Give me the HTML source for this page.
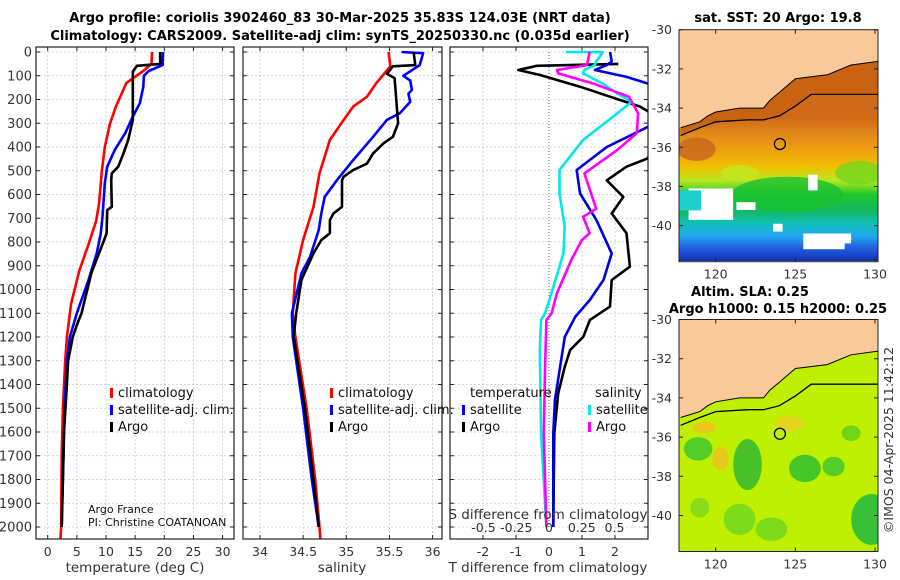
<!DOCTYPE html>
<html><head><meta charset="utf-8"><style>
html,body{margin:0;padding:0;background:#fff;}
svg{display:block;font-family:"DejaVu Sans","Liberation Sans",sans-serif;}
</style></head><body>
<svg id="s" width="900" height="580" viewBox="0 0 900 580" xmlns="http://www.w3.org/2000/svg">
<defs>
<clipPath id="c1"><rect x="36" y="47" width="198" height="492"/></clipPath>
<clipPath id="c2"><rect x="243" y="47" width="199" height="492"/></clipPath>
<clipPath id="c3"><rect x="450" y="47" width="198" height="492"/></clipPath>
<clipPath id="m1"><rect x="679" y="29" width="199" height="232"/></clipPath>
<clipPath id="m2"><rect x="679" y="319" width="199" height="232"/></clipPath>
<linearGradient id="sstg" x1="0" y1="0" x2="0" y2="1">
<stop offset="0.38" stop-color="#d06a18"/><stop offset="0.45" stop-color="#e08818"/><stop offset="0.52" stop-color="#eea010"/>
<stop offset="0.59" stop-color="#f0c000"/><stop offset="0.65" stop-color="#b8e820"/><stop offset="0.71" stop-color="#20c828"/>
<stop offset="0.78" stop-color="#10b860"/><stop offset="0.83" stop-color="#10c0b0"/><stop offset="0.89" stop-color="#20a8f0"/>
<stop offset="0.94" stop-color="#2060e0"/><stop offset="1" stop-color="#1030b0"/>
</linearGradient>
</defs>
<text x="340" y="22" text-anchor="middle" font-size="13" font-weight="bold" fill="#000">Argo profile: coriolis 3902460_83 30-Mar-2025 35.83S 124.03E (NRT data)</text>
<text x="340" y="40" text-anchor="middle" font-size="13" font-weight="bold" fill="#000">Climatology: CARS2009. Satellite-adj clim: synTS_20250330.nc (0.035d earlier)</text>
<g id="g"></g>
</svg>
<script>
// ---------- data ----------
const tClimD=[0,50,80,130,230,300,400,500,640,712,810,922,1062,1100,1200,1300,1500,1700,2000,2053];
const tClimV=[17.9,17.8,16.4,13.5,11.7,10.7,9.8,9.3,8.8,8.3,7.0,5.4,4.0,3.8,3.3,3.0,2.6,2.4,2.3,2.2];
const tSatD=[0,55,80,100,146,216,272,342,413,483,553,693,763,848,960,1100,1200,1300,1500,1800,2000];
const tSatV=[19.8,19.7,17.3,16.5,16.4,15.8,14.6,13.3,11.5,10.2,9.8,9.4,9.1,8.4,7.0,5.0,3.8,3.3,2.9,2.6,2.4];
const tArgoD=[0,50,58,83,286,370,427,483,511,540,652,666,763,790,930,1100,1150,1200,1300,1400,1600,2000];
const tArgoV=[19.3,19.3,15.3,14.6,14.6,13.8,13.0,12.1,11.0,10.9,11.0,10.2,10.1,9.7,7.5,5.8,5.0,4.3,3.5,3.3,2.8,2.4];
const sClimD=[0,60,130,188,230,286,370,511,652,792,932,1100,1200,1500,1800,2000,2053];
const sClimV=[35.49,35.51,35.35,35.24,35.08,34.97,34.81,34.69,34.62,34.50,34.41,34.38,34.41,34.54,34.64,34.69,34.70];
const sSatD=[0,5,55,100,120,160,175,210,258,286,357,455,540,610,680,750,862,932,1100,1200,1500,1800,2000];
const sSatV=[35.64,35.89,35.85,35.66,35.74,35.76,35.72,35.74,35.62,35.47,35.31,35.08,34.89,34.75,34.71,34.68,34.58,34.48,34.37,34.38,34.50,34.60,34.68];
const sArgoD=[0,55,60,92,110,300,357,385,427,470,497,525,540,652,680,708,763,792,848,960,1100,1200,1500,1800,2000];
const sArgoV=[35.78,35.80,35.54,35.47,35.56,35.60,35.54,35.43,35.31,35.24,35.08,34.97,34.95,34.95,34.85,34.81,34.81,34.71,34.62,34.48,34.42,34.39,34.52,34.62,34.68];
const dTArgoD=[50,58,76,97,146,202,230,258,300,447,483,540,610,680,763,904,960,1072,1128,1199,1255,1325,1437,1606,2000];
const dTArgoV=[2.1,-0.37,-0.93,-0.27,0.94,2.15,2.76,3.1,3.4,3.0,2.35,1.75,2.25,1.9,2.35,2.45,1.9,1.85,1.24,1.04,0.64,0.48,0.28,0.16,0.13];
const dTSatD=[0,40,55,76,105,133,200,315,400,497,595,708,848,960,1044,1114,1199,1466,1606,2000];
const dTSatV=[1.85,1.9,1.75,1.39,2.35,3.0,3.6,3.0,1.75,0.84,0.94,1.44,1.9,1.65,1.24,0.8,0.48,0.18,0.13,0.13];
const dSSatD=[0,1,40,55,76,90,133,174,210,272,370,497,595,735,848,960,1100,1128,1255,1606,2000];
const dSSatV=[0.13,0.41,0.36,0.35,0.27,0.26,0.41,0.52,0.63,0.49,0.26,0.08,0.08,0.12,0.11,0.05,-0.03,-0.06,-0.07,-0.06,-0.02];
const dSArgoD=[0,55,76,90,133,188,258,342,413,511,660,694,763,792,876,1016,1100,1128,1325,1606,2000];
const dSArgoV=[0.31,0.29,0.06,0.07,0.34,0.61,0.68,0.67,0.52,0.27,0.36,0.26,0.31,0.25,0.17,0.06,0.02,-0.02,-0.03,-0.04,-0.02];
const depthTicks=[0,100,200,300,400,500,600,700,800,900,1000,1100,1200,1300,1400,1500,1600,1700,1800,1900,2000];
const tempTicks=[0,5,10,15,20,25,30];
const salTicks=[34,34.5,35,35.5,36];
const salTickLabels=["34","34.5","35","35.5","36"];
const dTTicks=[-2,-1,0,1,2];
const dSTicks=[-0.5,-0.25,0,0.25,0.5];
const dSTickLabels=["-0.5","-0.25","0","0.25","0.5"];
const latTicks=[-30,-32,-34,-36,-38,-40];
const lonTicks=[120,125,130];
const coastLon=[117.8,119,119.5,120,121.5,123,123.4,124,125,127,128.5,130.3];
const coastLat=[-35.0,-34.7,-34.4,-34.2,-34.0,-34.0,-33.6,-33.2,-32.5,-32.3,-31.8,-31.6];
const shelfLon=[117.8,119,120,122,123,124,125,126,128,130.3];
const shelfLat=[-35.4,-35.0,-34.7,-34.6,-34.6,-34.4,-33.9,-33.3,-33.3,-33.3];
const floatLon=124.03, floatLat=-35.83;

// ---------- helpers ----------
const NS="http://www.w3.org/2000/svg";
const G=document.getElementById('g');
function el(tag,attrs,parent,txt){const e=document.createElementNS(NS,tag);for(const k in attrs)e.setAttribute(k,attrs[k]);if(txt!==undefined)e.textContent=txt;(parent||G).appendChild(e);return e;}
const yD=d=>52+d*0.2375;
const xT=v=>47.7+v*5.83;
const xS=v=>260+(v-34)*86.3;
const xDT=v=>549+v*33;
const xDS=v=>549+v*131;
const PT=[[36,234],[243,442],[450,648]];
const TOP=47,BOT=539;

function gridPanel(p,xs,xf){
  const [l,r]=PT[p];
  depthTicks.forEach(d=>{const y=yD(d);
    const g=el('line',{x1:l,x2:r,y1:y,y2:y,stroke:'#c8c8e0','stroke-width':0.8,'stroke-dasharray':'2,2'});
    
    el('line',{x1:l,x2:l+4,y1:y,y2:y,stroke:'#222'});el('line',{x1:r-4,x2:r,y1:y,y2:y,stroke:'#222'});});
  xs.forEach(v=>{const x=xf(v);
    const g=el('line',{x1:x,x2:x,y1:TOP,y2:BOT,stroke:'#c8c8e0','stroke-width':0.8,'stroke-dasharray':'2,2'});
    
    el('line',{x1:x,x2:x,y1:BOT-4,y2:BOT,stroke:'#222'});el('line',{x1:x,x2:x,y1:TOP,y2:TOP+4,stroke:'#222'});});
}
function frame(p,name){const [l,r]=PT[p];
  const f=el('rect',{x:l,y:TOP,width:r-l,height:BOT-TOP,fill:'none',stroke:'#222','stroke-width':1.2});
  }
function series(D,V,xf,color,clip,name,w){
  const pts=D.map((d,i)=>xf(V[i]).toFixed(1)+','+yD(d).toFixed(1)).join(' ');
  const pl=el('polyline',{points:pts,fill:'none',stroke:color,'stroke-width':w||2.6,'stroke-linejoin':'round','clip-path':'url(#'+clip+')'});
  
}
function txt(x,y,s,opts,name){const t=el('text',Object.assign({x:x,y:y,'font-size':12.5,fill:'#333'},opts||{}),G,s);
  return t;}

// panel 1
gridPanel(0,tempTicks,xT);
series(tClimD,tClimV,xT,'#ff0000','c1','temp-climatology-line');
series(tSatD,tSatV,xT,'#0000ff','c1','temp-satellite-line');
series(tArgoD,tArgoV,xT,'#000000','c1','temp-argo-line');
frame(0,'temperature-panel');
depthTicks.forEach(d=>txt(32,yD(d)+4.5,String(d),{'text-anchor':'end','font-size':13},'depth-tick-label'));
tempTicks.forEach(v=>txt(xT(v),556,String(v),{'text-anchor':'middle'},'temp-tick-label'));
txt(135,572,'temperature (deg C)',{'text-anchor':'middle','font-size':13.5},'temperature-axis-title');
txt(88,513,'Argo France',{'font-size':11,fill:'#111'},'credit-argo-france');
txt(88,526,'PI: Christine COATANOAN',{'font-size':11,fill:'#111'},'credit-pi');
// panel 2
gridPanel(1,salTicks,xS);
series(sClimD,sClimV,xS,'#ff0000','c2','sal-climatology-line');
series(sSatD,sSatV,xS,'#0000ff','c2','sal-satellite-line');
series(sArgoD,sArgoV,xS,'#000000','c2','sal-argo-line');
frame(1,'salinity-panel');
salTicks.forEach((v,i)=>txt(xS(v),556,salTickLabels[i],{'text-anchor':'middle'},'sal-tick-label'));
txt(342,572,'salinity',{'text-anchor':'middle','font-size':13.5},'salinity-axis-title');
// panel 3
gridPanel(2,dTTicks.filter(v=>v!==0),xDT);
const zl=el('line',{x1:549,x2:549,y1:yD(0),y2:yD(2000),stroke:'#556b2f','stroke-width':1,'stroke-dasharray':'1,2'});

series(dTArgoD,dTArgoV,xDT,'#000000','c3','dT-argo-line');
series(dTSatD,dTSatV,xDT,'#0000e0','c3','dT-satellite-line');
series(dSSatD,dSSatV,xDS,'#00e8e8','c3','dS-satellite-line');
series(dSArgoD,dSArgoV,xDS,'#ff00ff','c3','dS-argo-line');
frame(2,'difference-panel');
dTTicks.forEach(v=>txt(xDT(v),556,String(v),{'text-anchor':'middle'},'dT-tick-label'));
dSTicks.forEach((v,i)=>txt(xDS(v),532,dSTickLabels[i],{'text-anchor':'middle'},'dS-tick-label'));
txt(548,519,'S difference from climatology',{'text-anchor':'middle','font-size':13.5},'dS-axis-title');
txt(548,572,'T difference from climatology',{'text-anchor':'middle','font-size':13.5},'dT-axis-title');

// legends
function legItem(x,y,color,label,name){
  const m=el('rect',{x:x,y:y-9,width:3,height:10,fill:color});
  txt(x+8,y,label,{'font-size':13,fill:'#111'},name);
}
[[110,'#ff0000','climatology'],[110,'#0000ff','satellite-adj. clim.'],[110,'#000','Argo']].forEach((a,i)=>legItem(a[0],397+i*17,a[1],a[2],'legend-temp-'+i));
[[330,'#ff0000','climatology'],[330,'#0000ff','satellite-adj. clim.'],[330,'#000','Argo']].forEach((a,i)=>legItem(a[0],397+i*17,a[1],a[2],'legend-sal-'+i));
txt(470,397,'temperature',{'font-size':13,fill:'#111'},'legend-temperature-header');
txt(595,397,'salinity',{'font-size':13,fill:'#111'},'legend-salinity-header');
legItem(462,414,'#0000ff','satellite','legend-dT-satellite');
legItem(462,431,'#000','Argo','legend-dT-argo');
legItem(588,414,'#00e8e8','satellite','legend-dS-satellite');
legItem(588,431,'#ff00ff','Argo','legend-dS-argo');

// ---------- maps ----------
const mx=lon=>715.7+(lon-120)*15.93;
function drawMap(y0,clip,kind,name){
  const my=lat=>y0+(-30-lat)*19.6;
  const g=el('g',{'clip-path':'url(#'+clip+')'});
  if(kind==='sst'){
    el('rect',{x:679,y:y0,width:199,height:232,fill:'url(#sstg)'},g);
    const blobs=[[124.5,-38.4,3.5,0.9,'#18c030'],[129,-37.3,1.5,0.6,'#70d820'],[118.8,-36.1,1.2,0.6,'#c86420'],[121.5,-37.3,1.2,0.4,'#c0e820']];
    blobs.forEach(b=>el('ellipse',{cx:mx(b[0]),cy:my(b[1]),rx:b[2]*15.9,ry:b[3]*19.6,fill:b[4],opacity:0.8},g));
    const whites=[[118.3,-39.7,2.8,1.6],[121.3,-39.2,1.2,0.4],[125.5,-41.2,2.6,0.8],[127.5,-40.9,1,0.5],[125.8,-38.2,0.6,0.8],[123.6,-40.3,0.6,0.4]];
    whites.forEach(w=>el('rect',{x:mx(w[0]),y:my(w[1]+w[3]),width:w[2]*15.9,height:w[3]*19.6,fill:'#ffffff'},g));
    el('rect',{x:679,y:my(-38.2),width:22,height:20,fill:'#20d0d0'},g);
  } else {
    el('rect',{x:679,y:y0,width:199,height:232,fill:'#bff000'},g);
    const blobs=[[122,-37.4,0.9,1.3,'#30b830'],[125.6,-37.6,1.0,0.7,'#30c030'],[129.8,-40.2,1.3,1.3,'#20b840'],[118.9,-36.6,0.9,0.6,'#40c830'],[127.4,-37.5,0.7,0.5,'#40c830'],[128.5,-35.8,0.6,0.4,'#60d020'],[120.3,-37.1,0.5,0.6,'#f0c020'],[119.3,-35.5,0.7,0.3,'#f0c020'],[124.6,-35.3,0.9,0.4,'#e8d020'],[121.5,-40.2,1.0,0.8,'#70d820'],[123.5,-40.7,1.0,0.6,'#70d820'],[119,-39.6,0.6,0.5,'#80d820']];
    blobs.forEach(b=>el('ellipse',{cx:mx(b[0]),cy:my(b[1]),rx:b[2]*15.9,ry:b[3]*19.6,fill:b[4],opacity:0.85},g));
  }
  // land
  let lp='M679,'+y0+' L878,'+y0+' ';
  for(let i=coastLon.length-1;i>=0;i--) lp+='L'+mx(coastLon[i]).toFixed(1)+','+my(coastLat[i]).toFixed(1)+' ';
  lp+='L679,'+my(coastLat[0]).toFixed(1)+' Z';
  const land=el('path',{d:lp,fill:'#f9c99a'},g);
  if(kind==='sst'){
    let bp='';coastLon.forEach((l,i)=>bp+=(i?'L':'M')+mx(l).toFixed(1)+','+my(coastLat[i]).toFixed(1)+' ');
    for(let i=shelfLon.length-1;i>=0;i--) bp+='L'+mx(shelfLon[i]).toFixed(1)+','+my(shelfLat[i]).toFixed(1)+' ';
    el('path',{d:bp+'Z',fill:'#c86010',opacity:0.85},g);
  }
  let cp='';coastLon.forEach((l,i)=>cp+=(i?'L':'M')+mx(l).toFixed(1)+','+my(coastLat[i]).toFixed(1)+' ');
  const c=el('path',{d:cp,fill:'none',stroke:'#000','stroke-width':1},g);
  let sp='';shelfLon.forEach((l,i)=>sp+=(i?'L':'M')+mx(l).toFixed(1)+','+my(shelfLat[i]).toFixed(1)+' ');
  const s=el('path',{d:sp,fill:'none',stroke:'#000','stroke-width':1.3},g);
  const fc=el('circle',{cx:mx(floatLon),cy:my(floatLat),r:5.5,fill:'none',stroke:'#000','stroke-width':1.3},g);
  
  const fr=el('rect',{x:679,y:y0,width:199,height:232,fill:'none',stroke:'#222','stroke-width':1});
  
  latTicks.forEach(l=>{const y=my(l);el('line',{x1:679,x2:683,y1:y,y2:y,stroke:'#222'});el('line',{x1:874,x2:878,y1:y,y2:y,stroke:'#222'});
    txt(672,y+4.5,String(l),{'text-anchor':'end'},'lat-tick-label');});
  lonTicks.forEach(l=>{const x=mx(l);el('line',{x1:x,x2:x,y1:y0+232-4,y2:y0+232,stroke:'#222'});el('line',{x1:x,x2:x,y1:y0,y2:y0+4,stroke:'#222'});
    txt(x,y0+232+17,String(l),{'text-anchor':'middle'},'lon-tick-label');});
}
drawMap(29.7,'m1','sst','sst-map');
drawMap(319.5,'m2','sla','sla-map');
txt(778,22,'sat. SST: 20 Argo: 19.8',{'text-anchor':'middle','font-size':13,'font-weight':'bold',fill:'#000'},'sst-map-title');
txt(750,296,'Altim. SLA: 0.25',{'text-anchor':'middle','font-size':13,'font-weight':'bold',fill:'#000'},'sla-map-title');
txt(778,313,'Argo h1000: 0.15 h2000: 0.25',{'text-anchor':'middle','font-size':13,'font-weight':'bold',fill:'#000'},'sla-map-subtitle');
txt(0,0,'©IMOS 04-Apr-2025 11:42:12',{'text-anchor':'middle','font-size':12.5,transform:'translate(893,440) rotate(-90)'},'copyright-stamp');
</script>
</body></html>
